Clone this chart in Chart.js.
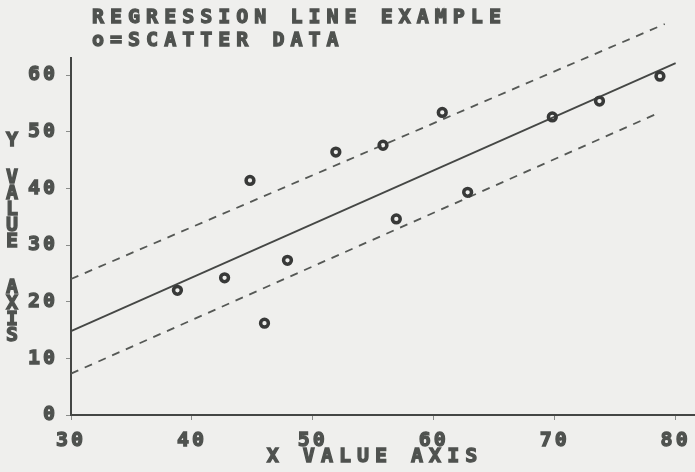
<!DOCTYPE html>
<html>
<head>
<meta charset="utf-8">
<script src="https://cdn.jsdelivr.net/npm/chart.js@4/dist/chart.umd.min.js"></script>
<style>
  html, body { margin:0; padding:0; background:#efefed; }
  canvas { display:block; }
</style>
</head>
<body>
<canvas id="chart" width="695" height="472"></canvas>
<script>
// scatter data
const scatterX = [38.8, 42.7, 44.8, 46.0, 47.9, 51.9, 55.8, 56.9, 60.7, 62.8, 69.8, 73.7, 78.7];
const scatterY = [22.0, 24.2, 41.4, 16.2, 27.3, 46.4, 47.6, 34.6, 53.4, 39.3, 52.6, 55.4, 59.8];

// regression line and the two dashed band lines (end points)
const fitX = [30, 80];
const fitY = [14.8, 62.1];
const upperX = [30, 79.1];
const upperY = [24.0, 69.0];
const lowerX = [30, 78.7];
const lowerY = [7.3, 53.4];

const xTicks = [30, 40, 50, 60, 70, 80];
const yTicks = [0, 10, 20, 30, 40, 50, 60];

const titleLines = ['REGRESSION LINE EXAMPLE', 'o=SCATTER DATA'];
const yTitleWords = ['Y', 'VALUE', 'AXIS'];
const xTitle = 'X VALUE AXIS';

const ink = '#4f524f';
const font = '"DejaVu Sans Mono", monospace';

const pts = (xs, ys) => xs.map((x, i) => ({ x, y: ys[i] }));

// old plotter look: chunky monospace text with extra spacing
const textPlugin = {
  id: 'oldText',
  beforeDraw(chart) {
    chart.ctx.letterSpacing = '3px';
  },
  afterDraw(chart) {
    const c = chart.ctx;
    c.save();
    c.fillStyle = ink;
    c.strokeStyle = ink;
    c.lineWidth = 1.3;
    c.font = 'bold 20px ' + font;
    c.letterSpacing = '6px';
    c.textBaseline = 'middle';
    c.textAlign = 'left';
    const draw = (t, x, y) => { c.fillText(t, x, y); c.strokeText(t, x, y); };
    titleLines.forEach((t, i) => draw(t, 92, 18 + i * 23));
    c.textAlign = 'center';
    draw(xTitle, 375, 457);
    // stacked y axis title
    c.letterSpacing = '0px';
    const starts = [141, 178, 288];
    yTitleWords.forEach((w, k) => {
      [...w].forEach((ch, j) => draw(ch, 12, starts[k] + j * 16));
    });
    c.restore();
  }
};

const tickFont = { family: font, size: 20, weight: 'bold' };

new Chart(document.getElementById('chart'), {
  type: 'scatter',
  data: {
    datasets: [
      {
        data: pts(scatterX, scatterY),
        pointRadius: 3.9,
        pointBorderWidth: 3.5,
        pointBorderColor: '#383938',
        pointBackgroundColor: 'rgba(0,0,0,0)',
        showLine: false,
        clip: false
      },
      {
        data: pts(fitX, fitY),
        showLine: true, pointRadius: 0,
        borderColor: '#454745', borderWidth: 1.8,
        clip: false
      },
      {
        data: pts(upperX, upperY),
        showLine: true, pointRadius: 0,
        borderColor: '#555855', borderWidth: 1.8, borderDash: [8, 7],
        clip: false
      },
      {
        data: pts(lowerX, lowerY),
        showLine: true, pointRadius: 0,
        borderColor: '#555855', borderWidth: 1.8, borderDash: [8, 7],
        clip: false
      }
    ]
  },
  options: {
    responsive: false,
    animation: false,
    events: [],
    layout: { autoPadding: false, padding: { top: 58, left: 0, right: 0, bottom: 0 } },
    plugins: { legend: { display: false }, tooltip: { enabled: false } },
    scales: {
      x: {
        type: 'linear', min: 30, max: 81.6,
        afterBuildTicks: s => { s.ticks = xTicks.map(v => ({ value: v })); },
        afterFit: s => { s.height = 57; s.paddingRight = 0; },
        border: { color: '#444644', width: 2 },
        grid: { drawOnChartArea: false, tickLength: 5, color: '#8a8c8a' },
        ticks: { color: ink, padding: 9, maxRotation: 0, font: tickFont,
                 textStrokeColor: ink, textStrokeWidth: 1.3 }
      },
      y: {
        type: 'linear', min: 0, max: 63,
        afterBuildTicks: s => { s.ticks = yTicks.map(v => ({ value: v })); },
        afterFit: s => { s.width = 71; },
        border: { color: '#444644', width: 2 },
        grid: { drawOnChartArea: false, tickLength: 5, color: '#8a8c8a' },
        ticks: { color: ink, padding: 8, font: tickFont,
                 textStrokeColor: ink, textStrokeWidth: 1.3 }
      }
    }
  },
  plugins: [textPlugin]
});
</script>
</body>
</html>
